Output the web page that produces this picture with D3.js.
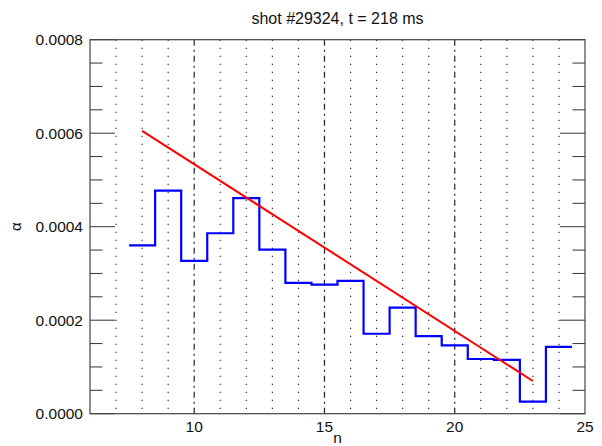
<!DOCTYPE html>
<html>
<head>
<meta charset="utf-8">
<script src="https://cdn.jsdelivr.net/npm/d3@7"></script>
<style>
  html, body { margin: 0; padding: 0; background: #fff; }
  svg { display: block; font-family: "Liberation Sans", Arial, Helvetica, sans-serif; }
</style>
</head>
<body>
<svg id="chart" width="602" height="446"></svg>
<script>
// ---- data ----
const title = "shot #29324, t = 218 ms";
const modeN = [8, 9, 10, 11, 12, 13, 14, 15, 16, 17, 18, 19, 20, 21, 22, 23, 24];
const alphaVals = [0.000360, 0.000477, 0.000327, 0.000386, 0.000461, 0.000351, 0.000280,
                   0.000276, 0.000284, 0.000171, 0.000227, 0.000166, 0.000146, 0.000117,
                   0.000115, 0.000026, 0.000143];
const fitN = [8, 23];
const fitVals = [0.000605, 0.000070];
const xTickLabels = [10, 15, 20, 25];
const yTickLabels = [0.0000, 0.0002, 0.0004, 0.0006, 0.0008];

// ---- layout ----
const svg = d3.select("#chart");
const L = 90, R = 585, T = 39.7, B = 413.7;
const x = d3.scaleLinear().domain([6, 25]).range([L, R]);
const y = d3.scaleLinear().domain([0, 0.0008]).range([B, T]);

// vertical grid lines (minor dotted, major dash-dot)
const gridN = d3.range(7, 25);
svg.append("g").selectAll("line").data(gridN).join("line")
  .attr("x1", d => x(d)).attr("x2", d => x(d))
  .attr("y1", T).attr("y2", B)
  .attr("stroke", "#222")
  .attr("stroke-width", d => d % 5 === 0 ? 1.2 : 1.1)
  .attr("stroke-dasharray", d => d % 5 === 0 ? "6,4,2,4" : "1.3,6.7");

// y ticks, both sides, major and minor
const yMinor = d3.range(0, 0.00080001, 0.00005);
const tickG = svg.append("g").attr("stroke", "#333").attr("stroke-width", 1);
yMinor.forEach((v, i) => {
  const len = (i % 4 === 0) ? 25 : 12.5;
  tickG.append("line").attr("x1", L).attr("x2", L + len).attr("y1", y(v)).attr("y2", y(v));
  tickG.append("line").attr("x1", R - len).attr("x2", R).attr("y1", y(v)).attr("y2", y(v));
});

// frame
svg.append("rect").attr("x", L).attr("y", T).attr("width", R - L).attr("height", B - T)
  .attr("fill", "none").attr("stroke", "#444").attr("stroke-width", 1.2);

// y tick labels
svg.append("g").selectAll("text").data(yTickLabels).join("text")
  .attr("x", L - 7).attr("y", d => y(d)).attr("dy", "0.36em")
  .attr("text-anchor", "end").attr("font-size", 15.5).attr("fill", "#111")
  .text(d => d3.format(".4f")(d));

// x tick labels
svg.append("g").selectAll("text").data(xTickLabels).join("text")
  .attr("x", d => x(d)).attr("y", 432)
  .attr("text-anchor", "middle").attr("font-size", 15.5).attr("fill", "#111")
  .text(d => d);

// axis titles
svg.append("text").attr("x", (L + R) / 2 - 0).attr("y", 443)
  .attr("text-anchor", "middle").attr("font-size", 15.5).attr("fill", "#111").text("n");
svg.append("text").attr("transform", `translate(21,${(T + B) / 2}) rotate(-90)`)
  .attr("text-anchor", "middle").attr("font-size", 15).attr("fill", "#111").text("α");

// title
svg.append("text").attr("x", (L + R) / 2).attr("y", 24)
  .attr("text-anchor", "middle").attr("font-size", 16).attr("fill", "#111").text(title);

// step histogram
const stepPts = [];
modeN.forEach((n, i) => {
  stepPts.push([n - 0.5, alphaVals[i]]);
  stepPts.push([n + 0.5, alphaVals[i]]);
});
const line = d3.line().x(d => x(d[0])).y(d => y(d[1]));
svg.append("path").datum(stepPts).attr("d", line)
  .attr("fill", "none").attr("stroke", "#0000ff").attr("stroke-width", 2.2)
  .attr("stroke-linejoin", "miter");

// linear fit
svg.append("path").datum(fitN.map((n, i) => [n, fitVals[i]])).attr("d", line)
  .attr("fill", "none").attr("stroke", "#ff0000").attr("stroke-width", 2);
</script>
</body>
</html>
